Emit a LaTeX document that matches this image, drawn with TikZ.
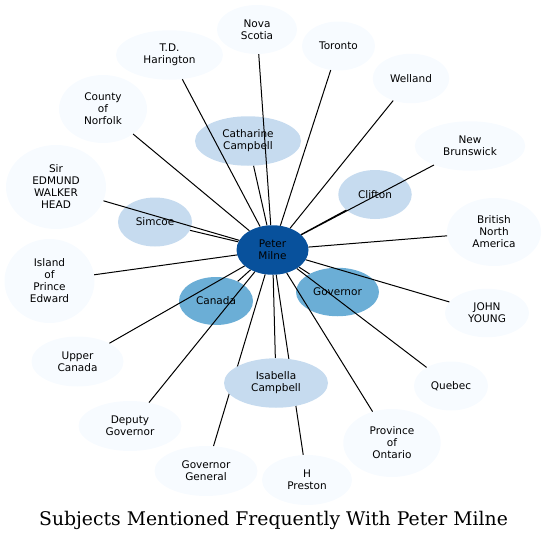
\documentclass[tikz,border=0pt]{standalone}
\usepackage{fontspec}
\setmainfont{DejaVu Serif}
\newfontfamily\labelfont{DejaVu Sans}
\usetikzlibrary{shapes.geometric}
\definecolor{blueA}{HTML}{F7FBFF}
\definecolor{blueB}{HTML}{C6DBEF}
\definecolor{blueC}{HTML}{6BAED6}
\definecolor{blueD}{HTML}{08519C}
\tikzstyle{subj}=[ellipse, fill=blueA, inner sep=0pt, align=center, font=\labelfont\fontsize{10.5}{12}\selectfont]
\tikzstyle{subjmid}=[subj, fill=blueB]
\tikzstyle{subjhigh}=[subj, fill=blueC]
\tikzstyle{person}=[subj, fill=blueD]
\tikzstyle{link}=[line width=1pt]
\pgfdeclarelayer{front}
\pgfsetlayers{main,front}

\begin{document}
\begin{tikzpicture}[x=1pt, y=-1pt]
            \useasboundingbox (0,0) rectangle (547,541);
            \node[person, minimum width=72, minimum height=49.5] (milne) at (272.5,250) {Peter\\Milne};
            \node[subjhigh, minimum width=74, minimum height=48] (canada) at (216,301) {Canada};
            \node[subjhigh, minimum width=83, minimum height=48.5] (governor) at (337.5,292) {Governor};
            \node[subjmid, minimum width=106, minimum height=49.5] (catharine) at (248,141) {Catharine\\Campbell};
            \node[subjmid, minimum width=74, minimum height=49] (simcoe) at (155,222) {Simcoe};
            \node[subjmid, minimum width=73.5, minimum height=49] (clifton) at (375,194.5) {Clifton};
            \node[subj, minimum width=107, minimum height=49.5] (harington) at (169.5,55) {T.D.\\Harington};
            \node[subj, minimum width=80, minimum height=49] (nova) at (257,29.5) {Nova\\Scotia};
            \node[subj, minimum width=88, minimum height=68] (norfolk) at (103,109) {County\\of\\Norfolk};
            \node[subj, minimum width=100, minimum height=84] (head) at (56,187) {Sir\\EDMUND\\WALKER\\HEAD};
            \node[subj, minimum width=90, minimum height=84] (island) at (49.5,281) {Island\\of\\Prince\\Edward};
            \node[subj, minimum width=92, minimum height=50] (upper) at (77.5,361.5) {Upper\\Canada};
            \node[subj, minimum width=103, minimum height=50] (deputy) at (130,426) {Deputy\\Governor};
            \node[subj, minimum width=103, minimum height=50] (govgen) at (206,471) {Governor\\General};
            \node[subj, minimum width=90, minimum height=50] (preston) at (307,480) {H\\Preston};
            \node[subj, minimum width=97.5, minimum height=68] (ontario) at (392,443) {Province\\of\\Ontario};
            \node[subj, minimum width=74, minimum height=49] (quebec) at (451,386) {Quebec};
            \node[subj, minimum width=84, minimum height=48.5] (young) at (487,313) {JOHN\\YOUNG};
            \node[subj, minimum width=94, minimum height=68] (bna) at (494,232) {British\\North\\America};
            \node[subj, minimum width=110.5, minimum height=49.5] (brunswick) at (470,146) {New\\Brunswick};
            \node[subj, minimum width=76.5, minimum height=49.5] (welland) at (411,78.5) {Welland};
            \node[subj, minimum width=73, minimum height=49] (toronto) at (338.5,46) {Toronto};
            % Isabella sits above the lines that cross it
            \begin{pgfonlayer}{front}
            \node[subjmid, minimum width=104, minimum height=49.5] (isabella) at (276,383) {Isabella\\Campbell};
            \end{pgfonlayer}
            \draw[link] (milne) -- (canada) (milne) -- (governor) (milne) -- (catharine)
                (milne) -- (simcoe) (milne) -- (clifton) (milne) -- (isabella)
                (milne) -- (harington) (milne) -- (nova) (milne) -- (norfolk)
                (milne) -- (head) (milne) -- (island) (milne) -- (upper)
                (milne) -- (deputy) (milne) -- (govgen) (milne) -- (preston)
                (milne) -- (ontario) (milne) -- (quebec) (milne) -- (young)
                (milne) -- (bna) (milne) -- (brunswick) (milne) -- (welland)
                (milne) -- (toronto);
            \node[font=\fontsize{18.8}{22}\selectfont] (title) at (273.5,520) {Subjects Mentioned Frequently With Peter Milne};
        \end{tikzpicture}
\end{document}
